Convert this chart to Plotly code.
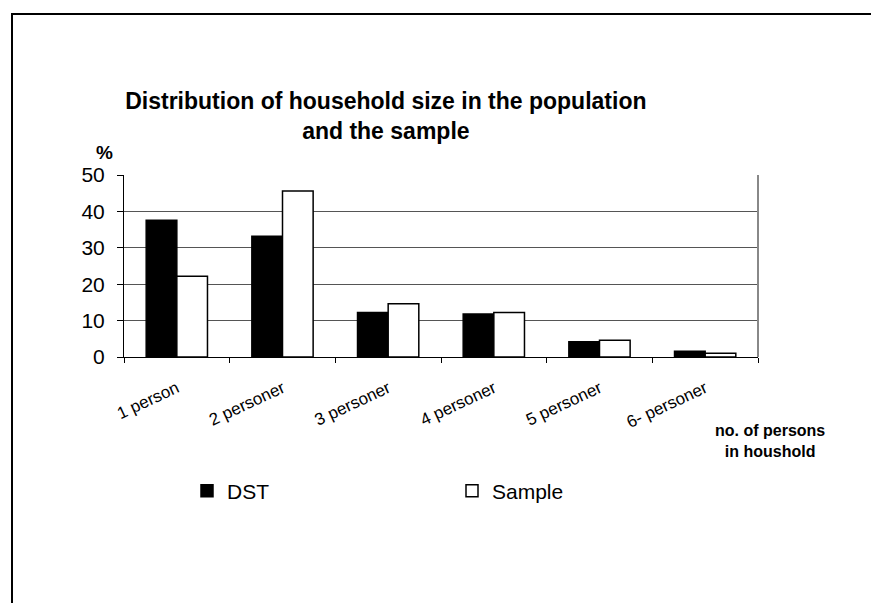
import plotly.graph_objects as go

# Household size distribution: Statistics Denmark (DST) vs. survey sample, in percent
categories = ["1 person", "2 personer", "3 personer", "4 personer", "5 personer", "6- personer"]
dst_pct = [37.6, 33.2, 12.2, 11.8, 4.2, 1.6]
sample_pct = [22.2, 45.6, 14.6, 12.2, 4.6, 1.0]
y_ticks = [0, 10, 20, 30, 40, 50]

FONT = "Arial, Liberation Sans, sans-serif"

fig = go.Figure()
fig.add_trace(go.Bar(
    name="DST", x=categories, y=dst_pct,
    marker=dict(color="black", line=dict(color="black", width=1.5)),
))
fig.add_trace(go.Bar(
    name="Sample", x=categories, y=sample_pct,
    marker=dict(color="white", line=dict(color="black", width=1.5)),
))

fig.update_layout(
    width=871, height=603,
    margin=dict(l=124, r=113, t=175, b=246),
    paper_bgcolor="white", plot_bgcolor="white",
    barmode="group", bargap=0.42, bargroupgap=0,
    font=dict(family=FONT, color="black"),
    title=dict(
        text="<b>Distribution of household size in the population<br>and the sample</b>",
        x=0.443, xref="container", xanchor="center",
        y=1 - 109 / 603, yref="container", yanchor="middle",
        font=dict(size=23, family=FONT, color="black"),
    ),
    xaxis=dict(
        tickangle=-25, tickfont=dict(size=17),
        showline=True, linecolor="black", linewidth=1,
        ticks="outside", tickson="boundaries", ticklen=5, tickcolor="black",
        ticklabelstandoff=14,
        showgrid=False,
    ),
    yaxis=dict(
        range=[0, 50], tickvals=y_ticks, tickfont=dict(size=21),
        showline=True, linecolor="black", linewidth=1,
        ticks="outside", ticklen=6, tickcolor="black",
        ticklabelstandoff=8,
        showgrid=True, gridcolor="#555", gridwidth=1,
        zeroline=False,
    ),
    legend=dict(
        orientation="h", x=(187 - 124) / 634, xanchor="left",
        y=(357 - 491) / 182, yanchor="middle",
        font=dict(size=21), entrywidth=220, entrywidthmode="pixels",
        traceorder="normal", bgcolor="rgba(0,0,0,0)",
    ),
    showlegend=True,
)

# "%" unit label above the value axis
fig.add_annotation(
    text="<b>%</b>", xref="paper", yref="paper",
    x=(104 - 124) / 634, y=1 + (175 - 152) / 182,
    xanchor="center", yanchor="middle",
    showarrow=False, font=dict(size=19, family=FONT),
)
# category axis caption
fig.add_annotation(
    text="<b>no. of persons<br>in houshold</b>", xref="paper", yref="paper",
    x=(770 - 124) / 634, y=(357 - 441) / 182,
    xanchor="center", yanchor="middle",
    showarrow=False, font=dict(size=16, family=FONT), align="center",
)

# right edge of the plot area
fig.add_shape(type="line", xref="paper", yref="paper", x0=1, x1=1, y0=0, y1=1,
              line=dict(color="#888", width=2))
# chart frame
fig.add_shape(type="rect", xref="paper", yref="paper",
              x0=(12 - 124) / 634, x1=(880 - 124) / 634,
              y0=(357 - 620) / 182, y1=1 + (175 - 14) / 182,
              line=dict(color="black", width=2), layer="below")

fig.write_html("out.html")
